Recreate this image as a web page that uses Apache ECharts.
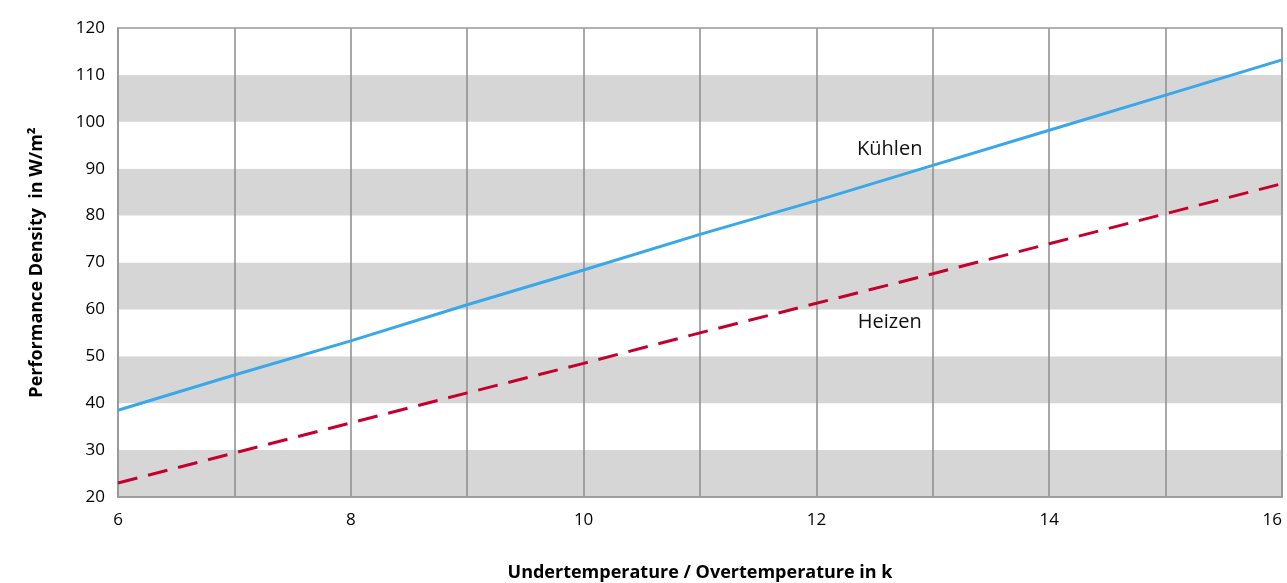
<!DOCTYPE html>
<html>
<head>
<meta charset="utf-8">
<script src="https://cdn.jsdelivr.net/npm/echarts@6/dist/echarts.min.js"></script>
<style>html,body{margin:0;padding:0;background:#fff}#c{width:1287px;height:583px}</style>
</head>
<body>
<div id="c"></div>
<script>
const xValues = [6, 7, 8, 9, 10, 11, 12, 13, 14, 15, 16];
const kuehlen = [38.5, 46, 53.3, 61, 68.4, 76, 83.2, 90.7, 98.2, 105.7, 113.2];
const heizen = [23, 29.4, 35.8, 42.2, 48.5, 55, 61.3, 67.6, 74, 80.4, 86.8];
const seriesNames = ['Kühlen', 'Heizen'];
const xTitle = 'Undertemperature / Overtemperature in k';
const yTitle = 'Performance Density  in W/m²';

const font = '"Open Sans", "Noto Sans", sans-serif';
const chart = echarts.init(document.getElementById('c'));
chart.setOption({
  animation: false,
  grid: { left: 118, right: 5, top: 28, bottom: 86, outerBoundsMode: 'none', containLabel: false,
    show: true, borderColor: '#999', borderWidth: 1.5, backgroundColor: 'transparent', z: 3 },
  xAxis: {
    type: 'value', min: 6, max: 16, interval: 1,
    name: xTitle, nameLocation: 'middle', nameGap: 67,
    nameTextStyle: { fontFamily: font, fontWeight: 'bold', fontSize: 18, color: '#000' },
    axisLine: { show: true, lineStyle: { color: '#999', width: 1.5 } },
    axisTick: { show: false },
    axisLabel: { fontFamily: font, fontSize: 17, color: '#000', margin: 15, alignMaxLabel: 'right',
      formatter: v => (v % 2 === 0 ? String(v) : '') },
    splitLine: { show: true, lineStyle: { color: '#8c8c8c', width: 1.5 } }
  },
  yAxis: {
    type: 'value', min: 20, max: 120, interval: 10,
    name: yTitle, nameLocation: 'middle', nameGap: 72,
    nameTextStyle: { fontFamily: font, fontWeight: 'bold', fontSize: 18, color: '#000' },
    axisLine: { show: true, lineStyle: { color: '#999', width: 1.5 } },
    axisTick: { show: false },
    axisLabel: { fontFamily: font, fontSize: 17, color: '#000', margin: 13 },
    splitLine: { show: false },
    splitArea: { show: true, areaStyle: { color: ['#d6d6d6', '#ffffff'] } }
  },
  series: [
    {
      name: seriesNames[0], type: 'line', symbol: 'none', z: 5,
      data: xValues.map((x, i) => [x, kuehlen[i]]),
      lineStyle: { color: '#3aa8e8', width: 3 },
      markPoint: { symbol: 'circle', symbolSize: 0, silent: true,
        label: { show: true, position: 'inside', formatter: seriesNames[0], fontFamily: font, fontSize: 20, color: '#111' },
        data: [{ coord: [12.63, 94.2] }] }
    },
    {
      name: seriesNames[1], type: 'line', symbol: 'none', z: 5,
      data: xValues.map((x, i) => [x, heizen[i]]),
      lineStyle: { color: '#c4002f', width: 3, type: [20, 11] },
      markPoint: { symbol: 'circle', symbolSize: 0, silent: true,
        label: { show: true, position: 'inside', formatter: seriesNames[1], fontFamily: font, fontSize: 20, color: '#111' },
        data: [{ coord: [12.63, 57.3] }] }
    }
  ]
});
</script>
</body>
</html>
